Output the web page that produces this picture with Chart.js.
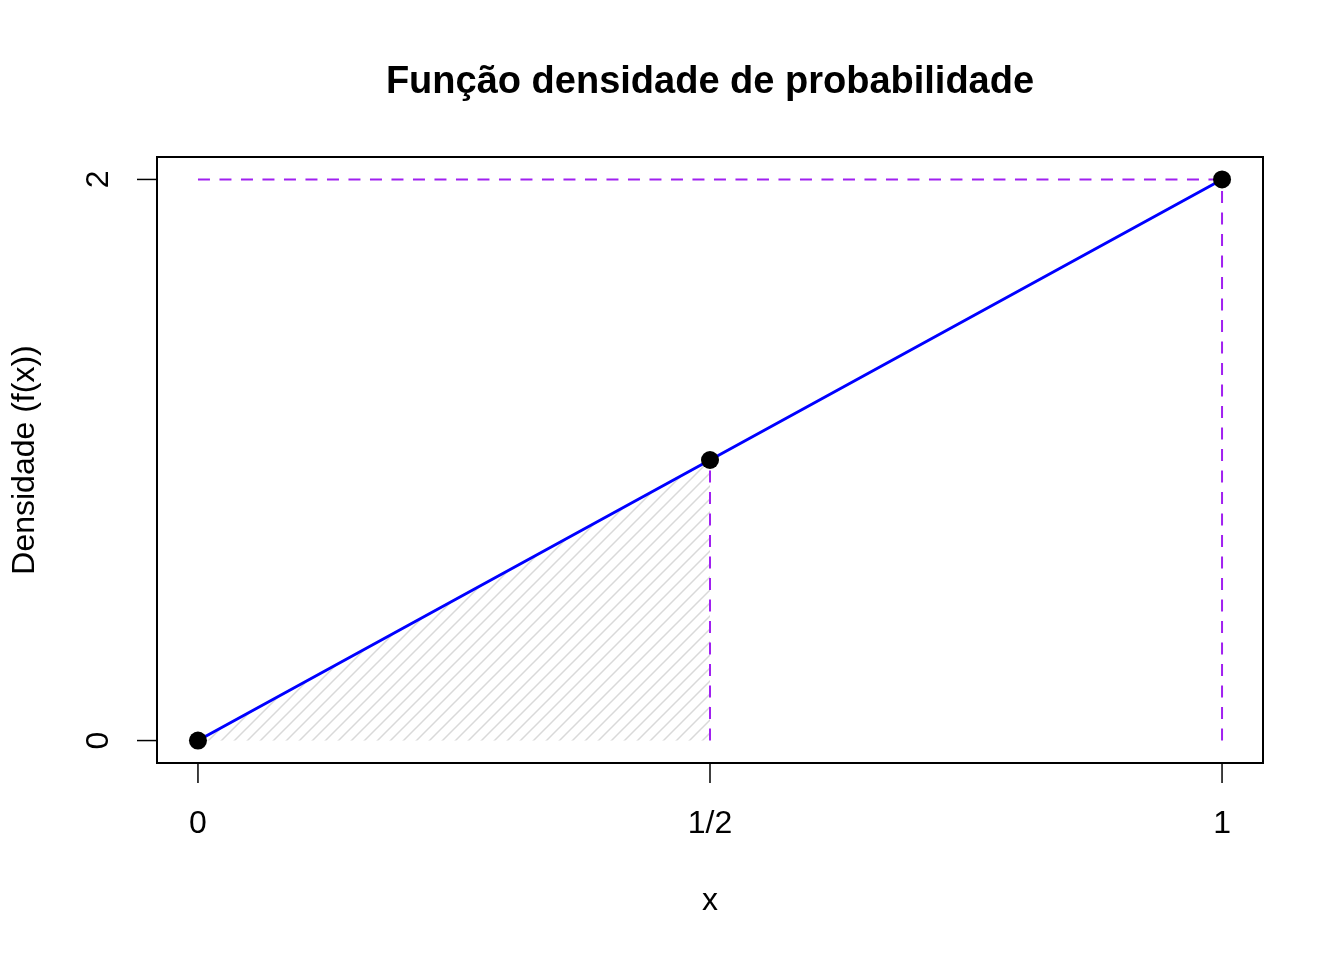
<!DOCTYPE html>
<html>
<head>
<meta charset="utf-8">
<script src="https://cdn.jsdelivr.net/npm/chart.js@4.4.1/dist/chart.umd.min.js"></script>
<style>
  html, body { margin: 0; padding: 0; background: #fff; }
  #wrap { width: 1344px; height: 960px; }
</style>
</head>
<body>
<div id="wrap"><canvas id="myChart" width="1344" height="960"></canvas></div>
<script>
// density f(x) = 2x on [0, 1]
const xValues = [0, 0.5, 1];
const densityValues = [0, 1, 2];
const shadeX = [0, 0.5];
const shadeY = [0, 1];
const xTickValues = [0, 0.5, 1];
const xTickLabels = ["0", "1/2", "1"];
const yTickValues = [0, 2];
const yTickLabels = ["0", "2"];

const titleText = "Função densidade de probabilidade";
const xTitle = "x";
const yTitle = "Densidade (f(x))";

const purple = "#a020f0";
const fontFamily = "'Liberation Sans', Arial, Helvetica, sans-serif";

const toPoints = function (xs, ys) {
  return xs.map((x, i) => ({ x: x, y: ys[i] }));
};

// diagonal hatching like R's density/angle polygon
const makeHatch = function () {
  const s = 13;
  const c = document.createElement("canvas");
  c.width = s;
  c.height = s;
  const g = c.getContext("2d");
  g.strokeStyle = "#d9d9d9";
  g.lineWidth = 1.5;
  g.beginPath();
  g.moveTo(-2, s + 2);
  g.lineTo(s + 2, -2);
  g.moveTo(-2, 2);
  g.lineTo(2, -2);
  g.moveTo(s - 2, s + 2);
  g.lineTo(s + 2, s - 2);
  g.stroke();
  return document.getElementById("myChart").getContext("2d").createPattern(c, "repeat");
};

// box, ticks and labels drawn R style
const rFrame = {
  id: "rFrame",
  afterDraw(chart) {
    const ctx = chart.ctx;
    const area = chart.chartArea;
    const xs = chart.scales.x;
    const ys = chart.scales.y;
    ctx.save();
    ctx.strokeStyle = "#000";
    ctx.fillStyle = "#000";
    ctx.lineWidth = 2;
    ctx.strokeRect(area.left, area.top, area.right - area.left, area.bottom - area.top);

    ctx.lineWidth = 1.5;
    ctx.font = "32px " + fontFamily;
    ctx.textAlign = "center";
    ctx.textBaseline = "middle";
    xTickValues.forEach((v, i) => {
      const px = xs.getPixelForValue(v);
      ctx.beginPath();
      ctx.moveTo(px, area.bottom);
      ctx.lineTo(px, area.bottom + 20);
      ctx.stroke();
      ctx.fillText(xTickLabels[i], px, area.bottom + 61);
    });
    yTickValues.forEach((v, i) => {
      const py = ys.getPixelForValue(v);
      ctx.beginPath();
      ctx.moveTo(area.left, py);
      ctx.lineTo(area.left - 20, py);
      ctx.stroke();
      ctx.save();
      ctx.translate(area.left - 58, py);
      ctx.rotate(-Math.PI / 2);
      ctx.fillText(yTickLabels[i], 0, 0);
      ctx.restore();
    });

    const midX = (area.left + area.right) / 2;
    const midY = (area.top + area.bottom) / 2;
    ctx.fillText(xTitle, midX, area.bottom + 138);
    ctx.save();
    ctx.translate(area.left - 132, midY);
    ctx.rotate(-Math.PI / 2);
    ctx.fillText(yTitle, 0, 0);
    ctx.restore();

    ctx.font = "bold 38px " + fontFamily;
    ctx.fillText(titleText, midX, 83);
    ctx.restore();
  },
};

const ctx = document.getElementById("myChart");

new Chart(ctx, {
  type: "scatter",
  plugins: [rFrame],
  data: {
    datasets: [
      {
        label: "pontos",
        data: toPoints(xValues, densityValues),
        showLine: false,
        pointRadius: 9,
        pointBackgroundColor: "#000",
        pointBorderWidth: 0,
      },
      {
        label: "f(x)",
        data: toPoints(xValues, densityValues),
        showLine: true,
        borderColor: "#0000ff",
        borderWidth: 3,
        pointRadius: 0,
      },
      {
        label: "guia y=2",
        data: toPoints([xValues[0], xValues[2]], [densityValues[2], densityValues[2]]),
        showLine: true,
        borderColor: purple,
        borderWidth: 2,
        borderDash: [12, 9.5],
        pointRadius: 0,
      },
      {
        label: "guia x=1",
        data: toPoints([xValues[2], xValues[2]], [densityValues[0], densityValues[2]]),
        showLine: true,
        borderColor: purple,
        borderWidth: 2,
        borderDash: [12, 9.5],
        pointRadius: 0,
      },
      {
        label: "guia x=1/2",
        data: toPoints([shadeX[1], shadeX[1]], [shadeY[0], shadeY[1]]),
        showLine: true,
        borderColor: purple,
        borderWidth: 2,
        borderDash: [12, 9.5],
        pointRadius: 0,
      },
      {
        label: "área",
        data: toPoints(shadeX, shadeY),
        showLine: true,
        borderWidth: 0,
        borderColor: "rgba(0,0,0,0)",
        backgroundColor: makeHatch(),
        fill: "origin",
        pointRadius: 0,
      },
    ],
  },
  options: {
    responsive: false,
    animation: false,
    devicePixelRatio: 1,
    layout: {
      padding: { left: 157, top: 157, right: 81, bottom: 197 },
    },
    plugins: {
      legend: { display: false },
      tooltip: { enabled: false },
      title: { display: false },
    },
    scales: {
      x: {
        type: "linear",
        min: -0.04,
        max: 1.04,
        display: false,
      },
      y: {
        type: "linear",
        min: -0.08,
        max: 2.08,
        display: false,
      },
    },
  },
});
</script>
</body>
</html>
